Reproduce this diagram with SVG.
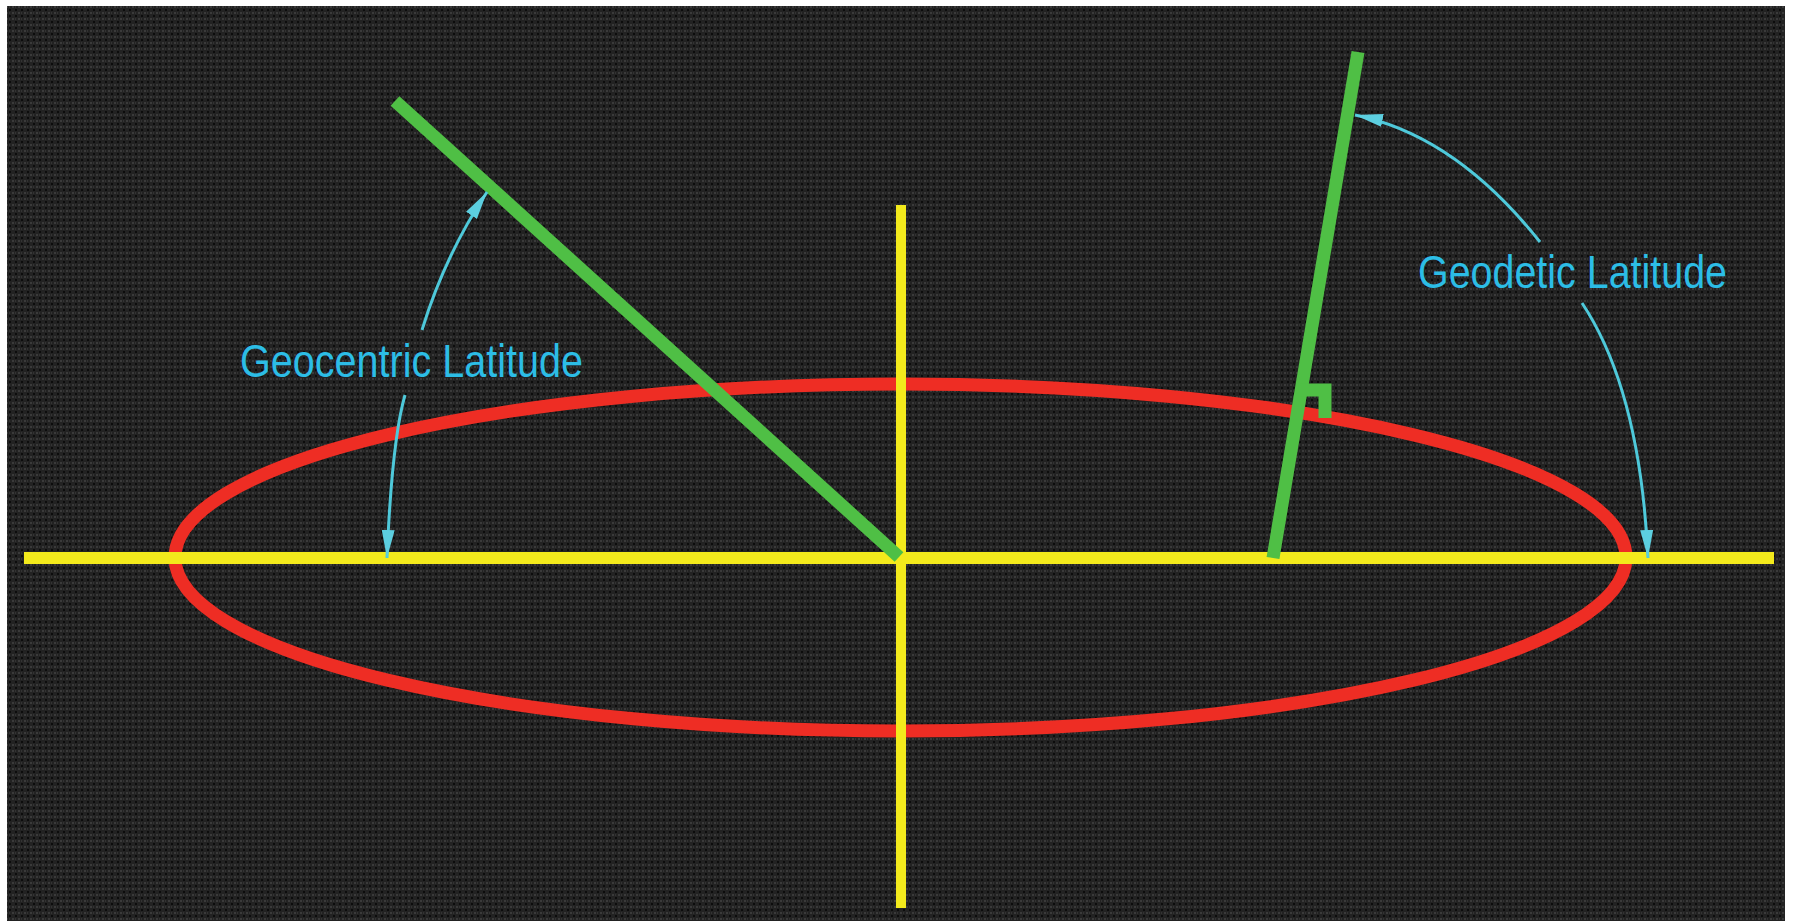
<svg xmlns="http://www.w3.org/2000/svg" width="1793" height="921" viewBox="0 0 1793 921">
<style>
.axis{stroke:#f3ea1c;fill:none;stroke-linecap:butt}
.normal{stroke:#4fbf45;fill:none;stroke-linecap:butt;stroke-linejoin:miter}
.arc{stroke:#4ec9da;stroke-width:3;fill:none}
.label{font-family:"Liberation Sans",Arial,sans-serif;font-size:47px;fill:#2cbde6}
</style>
<defs>
<pattern id="bg" width="6" height="6" patternUnits="userSpaceOnUse">
<rect width="6" height="6" fill="#222"/>
<rect x="0" y="0" width="2" height="2" fill="#3a3a3a"/>
<rect x="3" y="3" width="2" height="2" fill="#0c0c0c"/>
<rect x="3" y="0" width="1" height="2" fill="#333"/>
</pattern>
<marker id="ah" viewBox="0 0 28 13" refX="28" refY="6.5" markerWidth="28" markerHeight="13" markerUnits="userSpaceOnUse" orient="auto">
<path d="M0,0 L28,6.5 L0,13 z" fill="#5ccfe0"/>
</marker>
</defs>
<rect width="1793" height="921" fill="#fff"/>
<rect x="7" y="6" width="1778" height="915" fill="url(#bg)"/>
<g id="ellipse">
<ellipse cx="900.5" cy="557.5" rx="725.5" ry="173.5" fill="none" stroke="#ee2d24" stroke-width="13"/>
</g>
<g id="axes">
<line class="axis" x1="24" y1="558" x2="1774" y2="558" stroke-width="12"/>
<line class="axis" x1="901" y1="205" x2="901" y2="908" stroke-width="10"/>
</g>
<g id="geocentric-line">
<line class="normal" x1="395" y1="101" x2="899" y2="557" stroke-width="13"/>
</g>
<g id="geodetic-line">
<line class="normal" x1="1358" y1="52" x2="1273" y2="558" stroke-width="13"/>
<path class="normal" d="M1300,390 H1325 V418" stroke-width="13"/>
</g>
<g id="connectors">
<path class="arc" d="M422,330 Q445,255 487,192" marker-end="url(#ah)"/>
<path class="arc" d="M405,395 Q392,440 387,558" marker-end="url(#ah)"/>
<path class="arc" d="M1540,242 Q1455,135 1355,115" marker-end="url(#ah)"/>
<path class="arc" d="M1582,303 Q1640,390 1648,558" marker-end="url(#ah)"/>
</g>
<g id="label-geocentric">
<text class="label" x="240" y="377" textLength="343" lengthAdjust="spacingAndGlyphs">Geocentric Latitude</text>
</g>
<g id="label-geodetic">
<text class="label" x="1418" y="288" textLength="309" lengthAdjust="spacingAndGlyphs">Geodetic Latitude</text>
</g>
</svg>
